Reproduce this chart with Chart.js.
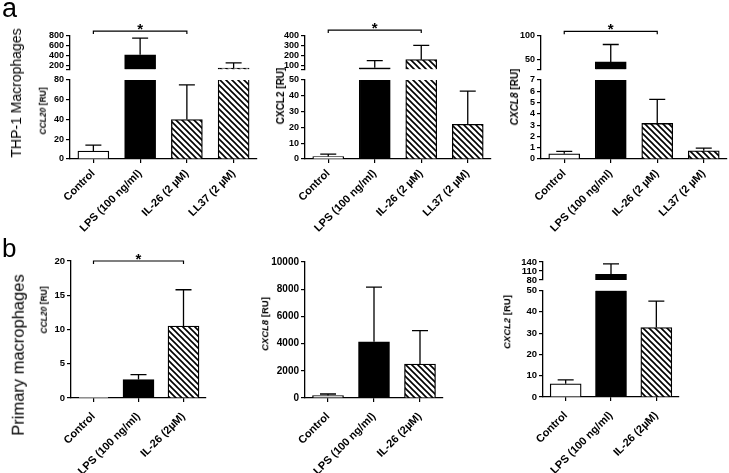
<!DOCTYPE html>
<html>
<head>
<meta charset="utf-8">
<script src="https://cdn.jsdelivr.net/npm/chart.js@4/dist/chart.umd.min.js"></script>
<style>
  html, body { margin: 0; padding: 0; background: #fff; }
  #fig { position: relative; width: 729px; height: 473px; overflow: hidden; font-family: "Liberation Sans", Arial, sans-serif; color: #000; }
  .lbl { position: absolute; white-space: nowrap; line-height: 1; will-change: transform; }
  .rot { transform: translate(-50%, -50%) rotate(-90deg); }
  .ttl { font-weight: bold; }
  canvas { position: absolute; }
</style>
</head>
<body>
<div id="fig">
  <div class="lbl" style="left:2px;top:-5px;font-size:27px">a</div>
  <div class="lbl" style="left:2px;top:235px;font-size:26px">b</div>
  <div class="lbl rot" style="left:16px;top:93px;font-size:14px">THP-1 Macrophages</div>
  <div class="lbl rot" style="left:18px;top:355px;font-size:16.5px">Primary macrophages</div>

  <div class="lbl rot ttl" style="left:43px;top:111px;font-size:8.5px"><i>CCL20</i> [RU]</div>
  <div class="lbl rot ttl" style="left:281px;top:96px;font-size:10px">CXCL2 [RU]</div>
  <div class="lbl rot ttl" style="left:515px;top:97px;font-size:10px"><i>CXCL8</i> [RU]</div>
  <div class="lbl rot ttl" style="left:44px;top:310px;font-size:8.5px"><i>CCL20</i> [RU]</div>
  <div class="lbl rot ttl" style="left:265px;top:324px;font-size:9.5px"><i>CXCL8</i> [RU]</div>
  <div class="lbl rot ttl" style="left:507px;top:322px;font-size:9.5px"><i>CXCL2</i> [RU]</div>
</div>
<script>
// categories
const catsA = ['Control', 'LPS (100 ng/ml)', 'IL-26 (2 µM)', 'LL37 (2 µM)'];
const catsB = ['Control', 'LPS (100 ng/ml)', 'IL-26 (2µM)'];

// a: THP-1 macrophages (mean, top of error bar)
const a1Ccl20 = [8, 420, 40, 150];
const a1Ccl20Err = [14, 755, 75, 255];
const a2Cxcl2 = [1.6, 77, 160, 21.9];
const a2Cxcl2Err = [3.1, 150, 305, 43];
const a3Cxcl8 = [0.46, 45, 3.15, 0.73];
const a3Cxcl8Err = [0.67, 82, 5.28, 0.96];

// b: primary macrophages
const b1Ccl20 = [0.1, 2.69, 10.5];
const b1Ccl20Err = [null, 3.42, 15.8];
const b2Cxcl8 = [177, 4136, 2489];
const b2Cxcl8Err = [295, 8154, 4948];
const b3Cxcl2 = [6.2, 98.6, 32.6];
const b3Cxcl2Err = [8.0, 134, 45];

// tick labels
const a1TopTicks = [200, 400, 600, 800], a1BotTicks = [0, 20, 40, 60, 80];
const a2TopTicks = [100, 200, 300, 400], a2BotTicks = [0, 10, 20, 30, 40, 50];
const a3TopTicks = [50, 100], a3BotTicks = [0, 1, 2, 3, 4, 5, 6, 7];
const b1Ticks = [0, 5, 10, 15, 20];
const b2Ticks = [0, 2000, 4000, 6000, 8000, 10000];
const b3TopTicks = [80, 110, 140], b3BotTicks = [0, 10, 20, 30, 40, 50];

Chart.defaults.font.family = '"Liberation Sans", Arial, sans-serif';
Chart.defaults.color = '#000';

const YW = 44, PT = 30, PR = 2;

function makeHatch() {
  const c = document.createElement('canvas');
  c.width = c.height = 6;
  const g = c.getContext('2d');
  g.fillStyle = '#fff';
  g.fillRect(0, 0, 6, 6);
  g.strokeStyle = '#000';
  g.lineWidth = 1.6;
  g.beginPath();
  g.moveTo(-1, -1); g.lineTo(7, 7);
  g.moveTo(-1, 5); g.lineTo(1, 7);
  g.moveTo(5, -1); g.lineTo(7, 1);
  g.stroke();
  return g.createPattern(c, 'repeat');
}
const hatch = makeHatch();
const fillsA = ['#fff', '#000', hatch, hatch];
const fillsB = ['#fff', '#000', hatch];

const errBars = {
  id: 'errBars',
  afterDatasetsDraw(chart, args, o) {
    const { ctx, scales } = chart;
    ctx.save();
    ctx.strokeStyle = '#000';
    ctx.lineWidth = 1.3;
    o.vals.forEach((v, i) => {
      const e = o.errs[i];
      if (e == null) return;
      const ys = (scales.yTop && v > o.botMax) ? scales.yTop : scales.y;
      const px = scales.x.getPixelForValue(i);
      const y0 = ys.getPixelForValue(v), y1 = ys.getPixelForValue(e);
      ctx.beginPath();
      ctx.moveTo(px, y0); ctx.lineTo(px, y1);
      ctx.moveTo(px - o.cap, y1); ctx.lineTo(px + o.cap, y1);
      ctx.stroke();
    });
    ctx.restore();
  }
};

const sigBar = {
  id: 'sigBar',
  afterDraw(chart, args, o) {
    if (o.from == null) return;
    const { ctx, scales } = chart;
    const ys = scales[o.axis];
    const x0 = scales.x.getPixelForValue(o.from), x1 = scales.x.getPixelForValue(o.to);
    const y = ys.getPixelForValue(o.value);
    ctx.save();
    ctx.strokeStyle = '#000';
    ctx.lineWidth = 1.2;
    ctx.beginPath();
    ctx.moveTo(x0, y + 3); ctx.lineTo(x0, y); ctx.lineTo(x1, y); ctx.lineTo(x1, y + 3);
    ctx.stroke();
    ctx.fillStyle = '#000';
    ctx.font = 'bold 15px "Liberation Sans", Arial, sans-serif';
    ctx.textAlign = 'center';
    ctx.textBaseline = 'alphabetic';
    ctx.fillText('*', (x0 + x1) / 2, y + 3);
    ctx.restore();
  }
};

// ticks: listed values; `cut` adds an unlabelled mark at the break end
function yAxis(min, max, ticks, fs, extra, cut) {
  return Object.assign({
    min: min, max: max, position: 'left',
    afterBuildTicks: s => {
      s.ticks = ticks.map(v => ({ value: v }));
      if (cut != null) s.ticks.unshift({ value: cut });
    },
    afterFit: s => { s.width = YW; },
    grid: { display: true, drawOnChartArea: false, drawTicks: true, tickLength: 4, color: '#000', lineWidth: 1.2 },
    border: { display: true, color: '#000', width: 1.3 },
    ticks: { autoSkip: false, padding: 2, color: '#000', font: { size: fs, weight: 'bold' },
      callback: v => (v === cut ? '' : String(v)) }
  }, extra || {});
}

function panel(g, o) {
  const left = g.L - YW, top = g.T - PT;
  const w = g.R - left + PR, h = (g.B - g.T) + PT + g.HX;
  const c = document.createElement('canvas');
  c.width = w; c.height = h;
  c.style.left = left + 'px'; c.style.top = top + 'px';
  c.style.width = w + 'px'; c.style.height = h + 'px';
  document.getElementById('fig').appendChild(c);

  const full = { top: 1.3, left: 1.3, right: 1.3, bottom: 0 };
  const open = { top: 0, left: 1.3, right: 1.3, bottom: 0 };
  const base = { backgroundColor: o.fills, borderColor: '#000', borderSkipped: false, barThickness: 31, grouped: false };

  const scales = {
    x: {
      offset: true,
      afterFit: s => { s.height = g.HX; },
      grid: { display: true, offset: false, drawOnChartArea: false, drawTicks: true, tickLength: 4, color: '#000', lineWidth: 1.2 },
      border: { display: true, color: '#000', width: 1.3 },
      ticks: { autoSkip: false, maxRotation: 45, minRotation: 45, padding: o.xpad, color: '#000', font: { size: 11, weight: 'bold' } }
    }
  };
  let datasets;
  if (o.broken) {
    const b = o.broken;
    const cut = b.topTicks.includes(b.topMin) ? null : b.topMin;
    scales.yTop = yAxis(b.topMin, b.topMax, b.topTicks, o.fs, { stack: 'v', stackWeight: g.wts[0], weight: 2 }, cut);
    scales.yGap = { stack: 'v', stackWeight: g.wts[1], weight: 1, position: 'left', display: false };
    scales.y = yAxis(0, b.botMax, b.botTicks, o.fs, { stack: 'v', stackWeight: g.wts[2], weight: 0 });
    datasets = [
      Object.assign({}, base, { yAxisID: 'yTop', data: o.vals.map(v => v > b.topMin ? [b.topMin, v] : null), borderWidth: full }),
      Object.assign({}, base, { yAxisID: 'y', data: o.vals.map(v => [0, Math.min(v, b.botMax)]),
        borderWidth: ctx => o.vals[ctx.dataIndex] > b.botMax ? open : full })
    ];
  } else {
    scales.y = yAxis(0, o.max, o.ticks, o.fs);
    datasets = [Object.assign({}, base, { yAxisID: 'y', data: o.vals, borderWidth: full })];
  }

  new Chart(c, {
    type: 'bar',
    data: { labels: o.cats, datasets: datasets },
    options: {
      responsive: false,
      animation: false,
      layout: { padding: { top: PT, right: PR, left: 0, bottom: 0 } },
      plugins: {
        legend: { display: false },
        tooltip: { enabled: false },
        errBars: { vals: o.vals, errs: o.errs, botMax: o.broken ? o.broken.botMax : Infinity, cap: 8 },
        sigBar: o.sig || {}
      },
      scales: scales
    },
    plugins: [errBars, sigBar]
  });
}

panel({ L: 70, R: 257, T: 36, B: 159, HX: 80, wts: [33.5, 10.5, 79] }, {
  cats: catsA, vals: a1Ccl20, errs: a1Ccl20Err, fills: fillsA, fs: 9, xpad: 4,
  broken: { topMin: 120, topMax: 800, topTicks: a1TopTicks, botMax: 80, botTicks: a1BotTicks },
  sig: { from: 0, to: 2, axis: 'yTop', value: 900 }
});
panel({ L: 305, R: 491, T: 36, B: 159, HX: 80, wts: [33.5, 10.5, 79] }, {
  cats: catsA, vals: a2Cxcl2, errs: a2Cxcl2Err, fills: fillsA, fs: 9, xpad: 4,
  broken: { topMin: 60, topMax: 400, topTicks: a2TopTicks, botMax: 50, botTicks: a2BotTicks },
  sig: { from: 0, to: 2, axis: 'yTop', value: 460 }
});
panel({ L: 541, R: 727, T: 36, B: 159, HX: 80, wts: [33.5, 10.5, 79] }, {
  cats: catsA, vals: a3Cxcl8, errs: a3Cxcl8Err, fills: fillsA, fs: 9, xpad: 4,
  broken: { topMin: 29, topMax: 100, topTicks: a3TopTicks, botMax: 7, botTicks: a3BotTicks },
  sig: { from: 0, to: 2, axis: 'yTop', value: 110 }
});
panel({ L: 71, R: 206, T: 261, B: 398, HX: 75 }, {
  cats: catsB, vals: b1Ccl20, errs: b1Ccl20Err, fills: fillsB, fs: 9.5, xpad: 8,
  max: 20, ticks: b1Ticks,
  sig: { from: 0, to: 2, axis: 'y', value: 20 }
});
panel({ L: 305, R: 443, T: 262, B: 398, HX: 75 }, {
  cats: catsB, vals: b2Cxcl8, errs: b2Cxcl8Err, fills: fillsB, fs: 10, xpad: 8,
  max: 10000, ticks: b2Ticks
});
panel({ L: 543, R: 679, T: 262, B: 397, HX: 76, wts: [18, 10.5, 106.5] }, {
  cats: catsB, vals: b3Cxcl2, errs: b3Cxcl2Err, fills: fillsB, fs: 9.5, xpad: 8,
  broken: { topMin: 80, topMax: 140, topTicks: b3TopTicks, botMax: 50, botTicks: b3BotTicks }
});
</script>
</body>
</html>
